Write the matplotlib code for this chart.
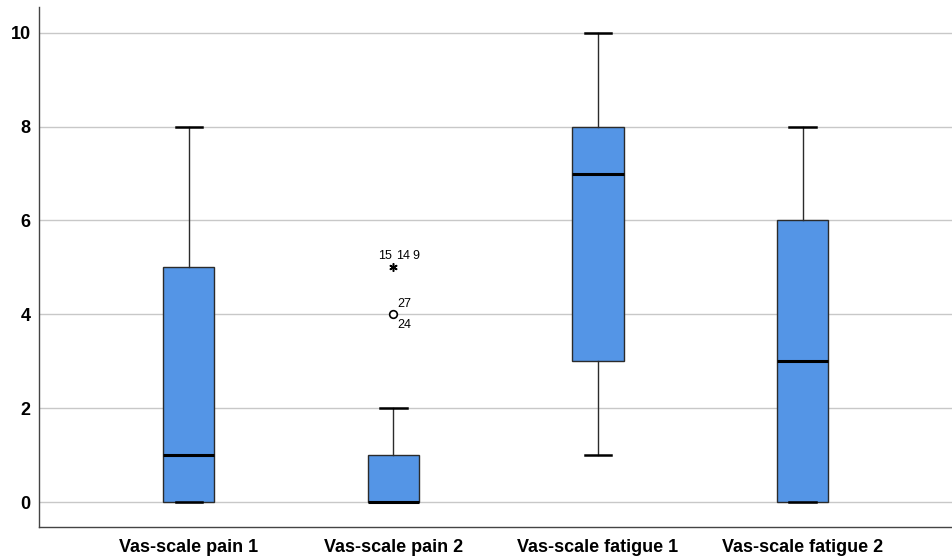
import matplotlib
matplotlib.use('Agg')
import matplotlib.pyplot as plt

# box statistics
labels = ['Vas-scale pain 1', 'Vas-scale pain 2', 'Vas-scale fatigue 1', 'Vas-scale fatigue 2']
whislo = [0, 0, 1, 0]
q1 = [0, 0, 3, 0]
med = [1, 0, 7, 3]
q3 = [5, 1, 8, 6]
whishi = [8, 2, 10, 8]

# outliers of "pain 2"
out_circle = [4]
out_star = [5]
yticks = [0, 2, 4, 6, 8, 10]

plt.rcParams['font.family'] = ['Liberation Sans', 'DejaVu Sans']

fig = plt.figure(figsize=(9.52, 5.58), dpi=100)
ax = fig.add_axes([0.041, 0.0556, 0.959, 0.932])

stats = []
for i in range(len(labels)):
    stats.append(dict(label=labels[i], whislo=whislo[i], q1=q1[i], med=med[i],
                      q3=q3[i], whishi=whishi[i], fliers=[]))

ax.bxp(stats, positions=[1, 2, 3, 4], widths=0.25, patch_artist=True,
       showfliers=False,
       boxprops=dict(facecolor='#5495E6', edgecolor='#2b2b2b', linewidth=1),
       medianprops=dict(color='black', linewidth=2.2),
       whiskerprops=dict(color='#2b2b2b', linewidth=1),
       capprops=dict(color='black', linewidth=1.8),
       capwidths=0.13, zorder=3)

# outliers for pain 2
ax.plot([2] * len(out_circle), out_circle, 'o', mfc='white', mec='black',
        ms=5.5, mew=1.2, zorder=4)
ax.plot([2] * len(out_star), out_star, marker=(6, 2, 0), color='black',
        ms=6, mew=1.1, linestyle='none', zorder=4)
ax.text(2.02, out_circle[0] + 0.1, '27', fontsize=9, ha='left', va='bottom')
ax.text(2.02, out_circle[0] - 0.1, '24', fontsize=9, ha='left', va='top')
ax.text(1.995, out_star[0] + 0.12, '15', fontsize=9, ha='right', va='bottom')
ax.text(2.045, out_star[0] + 0.12, '14', fontsize=9, ha='center', va='bottom')
ax.text(2.11, out_star[0] + 0.12, '9', fontsize=9, ha='center', va='bottom')

ax.set_xlim(0.268, 4.73)
ax.set_ylim(-0.53, 10.55)
ax.set_yticks(yticks)
ax.set_yticklabels([str(v) for v in yticks], fontsize=13, fontweight='bold')
ax.set_xticks([1, 2, 3, 4])
ax.set_xticklabels(labels, fontsize=13, fontweight='bold')
ax.tick_params(axis='x', length=0, pad=9)
ax.tick_params(axis='y', length=0, pad=6)
ax.yaxis.grid(True, color='#c8c8c8', linewidth=1, zorder=0)
ax.set_axisbelow(True)
for s in ['top', 'right']:
    ax.spines[s].set_visible(False)
for s in ['left', 'bottom']:
    ax.spines[s].set_color('#444444')
    ax.spines[s].set_linewidth(1)

fig.savefig('out.png', dpi=100)
